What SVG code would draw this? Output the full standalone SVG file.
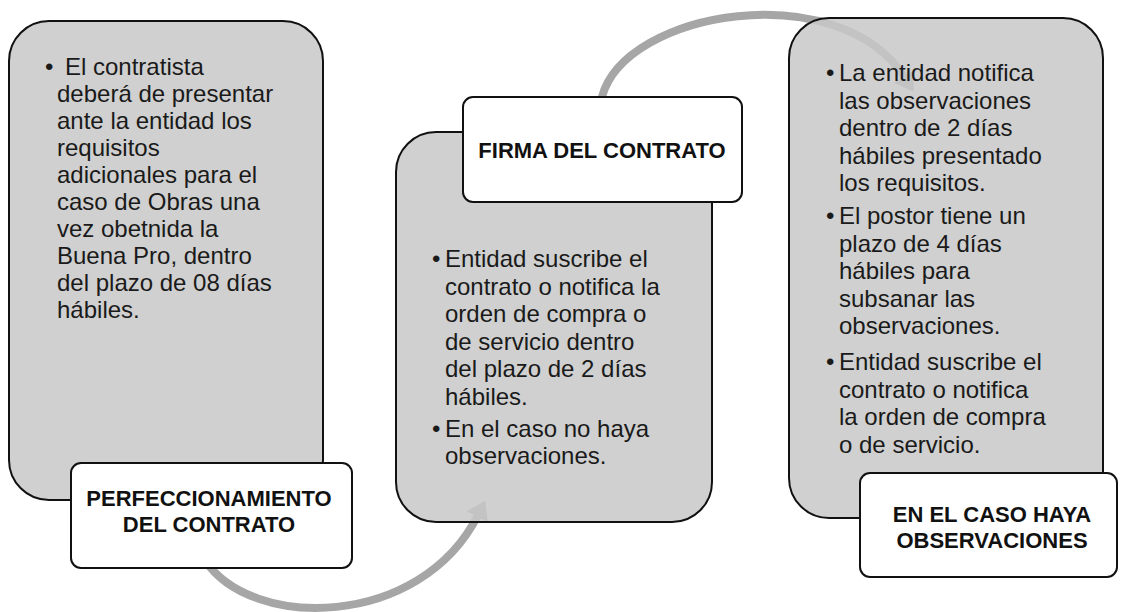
<svg xmlns="http://www.w3.org/2000/svg" width="1127" height="612" viewBox="0 0 1127 612">
<defs>
<style>
.box{fill:#c8c8c8;fill-opacity:0.85;stroke:#111;stroke-width:2}
.lbl{fill:#fff;stroke:#111;stroke-width:2}
.body{font-family:"Liberation Sans",Arial,sans-serif;font-size:24px;fill:#1a1a1a}
.head{font-family:"Liberation Sans",Arial,sans-serif;font-size:22px;font-weight:bold;fill:#111;text-anchor:middle}
.arc{fill:none;stroke:#a6a6a6;stroke-width:8}
</style>
<marker id="ah" markerUnits="userSpaceOnUse" markerWidth="30" markerHeight="30" refX="2" refY="12" orient="auto">
<path d="M0,0 L18,12 L0,24 Z" fill="#a6a6a6"/>
</marker>
</defs>
<g id="connectors">
<path class="arc" d="M205,560 C250,630 420,630 478,515" marker-end="url(#ah)"/>
<path class="arc" d="M602,97 C625,10 840,-25 905,78" marker-end="url(#ah)"/>
</g>
<g id="node1">
<rect class="box" x="9" y="21" width="314" height="479" rx="40"/>
<text class="body">
<tspan x="45" y="75">•</tspan><tspan x="65" y="75">El contratista</tspan>
<tspan x="57" y="102">deberá de presentar</tspan>
<tspan x="57" y="129">ante la entidad los</tspan>
<tspan x="57" y="156">requisitos</tspan>
<tspan x="57" y="183">adicionales para el</tspan>
<tspan x="57" y="210">caso de Obras una</tspan>
<tspan x="57" y="237">vez obetnida la</tspan>
<tspan x="57" y="264">Buena Pro, dentro</tspan>
<tspan x="57" y="291">del plazo de 08 días</tspan>
<tspan x="57" y="318">hábiles.</tspan>
</text>
</g>
<g id="label1">
<rect class="lbl" x="71" y="463" width="281" height="105" rx="10"/>
<text class="head"><tspan x="209" y="506">PERFECCIONAMIENTO</tspan><tspan x="209" y="532">DEL CONTRATO</tspan></text>
</g>
<g id="node2">
<rect class="box" x="396" y="132" width="316" height="390" rx="40"/>
<text class="body">
<tspan x="432" y="267">•</tspan><tspan x="445" y="267">Entidad suscribe el</tspan>
<tspan x="445" y="294.5">contrato o notifica la</tspan>
<tspan x="445" y="322">orden de compra o</tspan>
<tspan x="445" y="349.5">de servicio dentro</tspan>
<tspan x="445" y="377">del plazo de 2 días</tspan>
<tspan x="445" y="404.5">hábiles.</tspan>
<tspan x="432" y="437">•</tspan><tspan x="445" y="437">En el caso no haya</tspan>
<tspan x="445" y="464">observaciones.</tspan>
</text>
</g>
<g id="label2">
<rect class="lbl" x="463" y="97" width="279" height="105" rx="10"/>
<text class="head"><tspan x="602" y="158">FIRMA DEL CONTRATO</tspan></text>
</g>
<g id="node3">
<rect class="box" x="789" y="18" width="314" height="500" rx="40"/>
<text class="body">
<tspan x="826" y="81">•</tspan><tspan x="839" y="81">La entidad notifica</tspan>
<tspan x="839" y="108.5">las observaciones</tspan>
<tspan x="839" y="136">dentro de 2 días</tspan>
<tspan x="839" y="163.5">hábiles presentado</tspan>
<tspan x="839" y="191">los requisitos.</tspan>
<tspan x="826" y="224">•</tspan><tspan x="839" y="224">El postor tiene un</tspan>
<tspan x="839" y="251.5">plazo de 4 días</tspan>
<tspan x="839" y="279">hábiles para</tspan>
<tspan x="839" y="306.5">subsanar las</tspan>
<tspan x="839" y="334">observaciones.</tspan>
<tspan x="826" y="370">•</tspan><tspan x="839" y="370">Entidad suscribe el</tspan>
<tspan x="839" y="397.5">contrato o notifica</tspan>
<tspan x="839" y="425">la orden de compra</tspan>
<tspan x="839" y="452.5">o de servicio.</tspan>
</text>
</g>
<g id="label3">
<rect class="lbl" x="860" y="473" width="257" height="104" rx="10"/>
<text class="head"><tspan x="992" y="522">EN EL CASO HAYA</tspan><tspan x="992" y="548">OBSERVACIONES</tspan></text>
</g>
</svg>
